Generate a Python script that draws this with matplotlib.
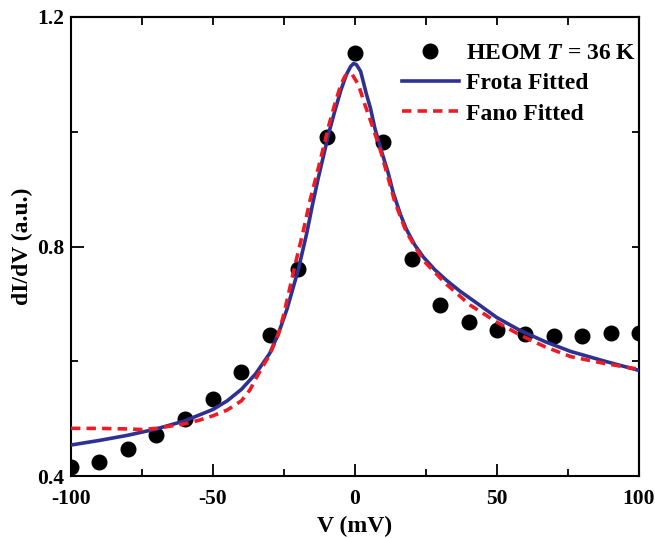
import matplotlib
matplotlib.use("Agg")
import matplotlib.pyplot as plt
from matplotlib.ticker import MultipleLocator

# ---- data ----
v_heom = [-100, -90, -80, -70, -60, -50, -40, -30, -20, -10, 0,
          10, 20, 30, 40, 50, 60, 70, 80, 90, 100]
didv_heom = [0.416, 0.425, 0.447, 0.472, 0.499, 0.535, 0.582, 0.645, 0.760, 0.991, 1.137,
             0.983, 0.779, 0.698, 0.668, 0.655, 0.648, 0.644, 0.644, 0.649, 0.650]

v_frota = [-100, -90, -80, -70, -60, -50, -45, -40, -35, -30, -27, -24, -20, -17, -15,
           -13, -11, -9, -7, -5, -3, -1.5, -0.5, 0.5, 2, 4, 5.5, 7, 9.4, 11.7, 13.5,
           16, 18, 21, 24, 28, 32, 37, 43, 50, 58, 67, 76, 88, 100]
didv_frota = [0.454, 0.462, 0.471, 0.482, 0.496, 0.516, 0.531, 0.551, 0.578, 0.614, 0.648,
              0.690, 0.759, 0.823, 0.872, 0.918, 0.960, 1.002, 1.038, 1.072, 1.100, 1.114,
              1.119, 1.117, 1.105, 1.066, 1.040, 1.006, 0.965, 0.928, 0.893, 0.856, 0.831,
              0.803, 0.782, 0.760, 0.742, 0.722, 0.701, 0.676, 0.654, 0.634, 0.617, 0.600, 0.584]

v_fano = [-100, -90, -80, -75, -70, -65, -60, -55, -50, -45, -40, -37, -34, -30, -27, -25,
          -24, -21, -18.4, -15.8, -13, -11, -9, -7, -5, -3.5, -2.4, -1, 1.2, 3.5, 6.4, 8.8,
          11.2, 14, 18, 24, 32, 40.5, 50, 58, 67, 76, 88, 100]
didv_fano = [0.483, 0.483, 0.482, 0.481, 0.483, 0.487, 0.491, 0.497, 0.505, 0.515, 0.531,
             0.550, 0.578, 0.612, 0.647, 0.683, 0.705, 0.770, 0.823, 0.881, 0.935, 0.975,
             1.015, 1.050, 1.082, 1.097, 1.102, 1.100, 1.082, 1.047, 1.006, 0.970, 0.928,
             0.878, 0.826, 0.776, 0.735, 0.698, 0.668, 0.646, 0.625, 0.608, 0.596, 0.586]

x_ticks = [-100, -50, 0, 50, 100]
x_ticklabels = ["-100", "-50", "0", "50", "100"]
y_ticks = [0.4, 0.8, 1.2]
y_ticklabels = ["0.4", "0.8", "1.2"]

plt.rcParams["font.family"] = ["Liberation Serif", "DejaVu Serif"]
plt.rcParams["font.weight"] = "bold"
plt.rcParams["axes.unicode_minus"] = False
plt.rcParams["mathtext.fontset"] = "custom"
plt.rcParams["mathtext.bfit"] = "Liberation Serif:italic:bold"
plt.rcParams["mathtext.it"] = "Liberation Serif:italic:bold"

fig = plt.figure(figsize=(6.55, 5.38), dpi=100)
ax = fig.add_axes([71 / 655, 1 - 476 / 538, 568 / 655, 459 / 538])

ax.plot(v_heom, didv_heom, linestyle="none", marker="o", markersize=10.5,
        color="black", label=r"HEOM $\mathit{T}$ = 36 K", zorder=2)
ax.plot(v_frota, didv_frota, color="#2E3192", linewidth=2.6,
        label="Frota Fitted", zorder=3)
ax.plot(v_fano, didv_fano, color="#ED1C24", linewidth=2.6, dashes=(2.6, 1.7),
        label="Fano Fitted", zorder=4)

ax.set_xlim(-100, 100)
ax.set_ylim(0.4, 1.2)
ax.set_xticks(x_ticks)
ax.set_xticklabels(x_ticklabels)
ax.set_yticks(y_ticks)
ax.set_yticklabels(y_ticklabels)
ax.xaxis.set_minor_locator(MultipleLocator(25))
ax.yaxis.set_minor_locator(MultipleLocator(0.2))
ax.tick_params(which="major", direction="in", length=9, width=1.3, labelsize=15.5, pad=5)
ax.tick_params(axis="x", which="major", pad=9)
ax.tick_params(which="minor", direction="in", length=5, width=1.3)
for lab in ax.get_xticklabels() + ax.get_yticklabels():
    lab.set_fontweight("bold")

# top / right ticks (uniform short length, no labels)
secx = ax.secondary_xaxis("top")
secx.set_xticks([-75, -50, -25, 0, 25, 50, 75])
secx.tick_params(direction="in", length=6, width=1.3, labeltop=False)
secy = ax.secondary_yaxis("right")
secy.set_yticks([0.6, 0.8, 1.0])
secy.tick_params(direction="in", length=5, width=1.3, labelright=False)
for s in list(ax.spines.values()):
    s.set_linewidth(1.5)
secx.spines["top"].set_linewidth(1.5)
secy.spines["right"].set_linewidth(1.5)

ax.set_xlabel("V (mV)", fontsize=17, fontweight="bold", labelpad=5)
ax.set_ylabel("dI/dV (a.u.)", fontsize=17, fontweight="bold", labelpad=3)

leg = ax.legend(loc="upper left", bbox_to_anchor=(0.583, 0.944), frameon=False,
                fontsize=17, handlelength=2.4, handletextpad=0.3,
                labelspacing=0.37, borderpad=0, borderaxespad=0)
for t in leg.get_texts():
    t.set_fontweight("bold")

fig.savefig("out.png", dpi=100)
